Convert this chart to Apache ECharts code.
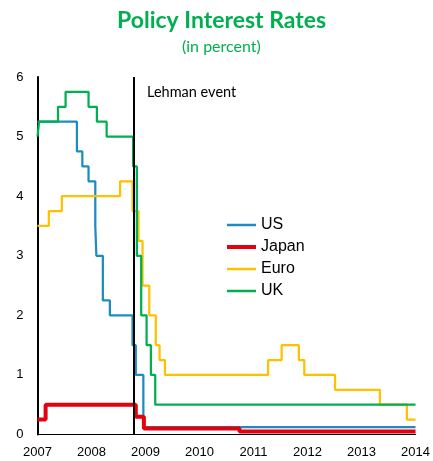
<!DOCTYPE html>
<html>
<head>
<meta charset="utf-8">
<script src="https://cdn.jsdelivr.net/npm/echarts@6/dist/echarts.min.js"></script>
<style>
  html, body { margin: 0; padding: 0; background: #fff; }
  #chart { width: 433px; height: 461px; }
</style>
</head>
<body>
<div id="chart"></div>
<script>
// rate changes: [decimal year, rate in percent], held until the next change
const usRates = [
  [2007.0, 5.25], [2007.73, 4.75], [2007.83, 4.5], [2007.945, 4.25],
  [2008.07, 3.5], [2008.09, 3.0], [2008.21, 2.25], [2008.34, 2.0],
  [2008.76, 1.5], [2008.82, 1.0], [2008.96, 0.125], [2014.0, 0.125]
];
const japanRates = [
  [2007.0, 0.25], [2007.15, 0.5], [2008.82, 0.3], [2008.97, 0.1],
  [2010.74, 0.05], [2014.0, 0.05]
];
const euroRates = [
  [2007.0, 3.5], [2007.21, 3.75], [2007.45, 4.0], [2008.53, 4.25],
  [2008.76, 3.75], [2008.87, 3.25], [2008.945, 2.5], [2009.07, 2.0],
  [2009.19, 1.5], [2009.26, 1.25], [2009.36, 1.0], [2011.27, 1.25],
  [2011.52, 1.5], [2011.84, 1.25], [2011.94, 1.0], [2012.51, 0.75],
  [2013.34, 0.5], [2013.84, 0.25], [2014.0, 0.25]
];
const ukRates = [
  [2007.0, 5.0], [2007.03, 5.25], [2007.38, 5.5], [2007.52, 5.75],
  [2007.945, 5.5], [2008.1, 5.25], [2008.28, 5.0], [2008.77, 4.5],
  [2008.84, 3.0], [2008.92, 2.0], [2009.02, 1.5], [2009.1, 1.0],
  [2009.18, 0.5], [2014.0, 0.5]
];
const seriesNames = ["US", "Japan", "Euro", "UK"];
const yearTicks = [2007, 2008, 2009, 2010, 2011, 2012, 2013, 2014];
const rateTicks = [0, 1, 2, 3, 4, 5, 6];
const lehmanX = 2008.79;

const colors = ["#1E8BC3", "#E3000F", "#FFC000", "#00B050"];
const widths = [2.25, 4, 2.25, 2.25];

const chart = echarts.init(document.getElementById("chart"));

const series = [usRates, japanRates, euroRates, ukRates].map((d, i) => ({
  name: seriesNames[i],
  type: "line",
  step: "end",
  data: d,
  symbol: "none",
  lineStyle: { color: colors[i], width: widths[i] },
  itemStyle: { color: colors[i] },
}));

// Lehman vertical line
series[0].markLine = {
  silent: true,
  symbol: "none",
  label: { show: false },
  lineStyle: { color: "#000", width: 2, type: "solid" },
  data: [{ xAxis: lehmanX }],
};

// plain line legend icons, Japan a bit thicker
const legendData = seriesNames.map((n, i) => ({
  name: n,
  icon: "path://M0,0h29v" + (i === 1 ? 4 : 2.5) + "h-29z",
}));

chart.setOption({
  animation: false,
  grid: { left: 37.5, right: 14.5, top: 77, bottom: 26.5 },
  graphic: [
    {
      type: "text", left: 117, top: 9,
      style: { text: "Policy Interest Rates", fill: "#00B050", font: "bold 23px Lato" },
    },
    {
      type: "text", left: 182, top: 39,
      style: { text: "(in percent)", fill: "#00B050", font: "16px Lato" },
    },
    {
      type: "text", left: 147, top: 85,
      style: { text: "Lehman event", fill: "#000", font: "14.5px Lato" },
    },
  ],
  legend: {
    data: legendData,
    orient: "vertical",
    left: 222,
    top: 212,
    itemWidth: 29,
    itemHeight: 14,
    itemGap: 6,
    symbolKeepAspect: true,
    textStyle: { fontFamily: "Liberation Sans", fontSize: 16, color: "#000", lineHeight: 16 },
  },
  xAxis: {
    type: "value",
    min: yearTicks[0],
    max: yearTicks[yearTicks.length - 1],
    interval: 1,
    axisLine: { show: true, lineStyle: { color: "#000", width: 1 } },
    axisTick: { show: false },
    splitLine: { show: false },
    axisLabel: {
      margin: 11,
      color: "#000",
      fontFamily: "Liberation Sans",
      fontSize: 13,
      formatter: (v) => (yearTicks.includes(v) ? String(v) : ""),
    },
  },
  yAxis: {
    type: "value",
    min: rateTicks[0],
    max: rateTicks[rateTicks.length - 1],
    interval: 1,
    axisLine: { show: true, lineStyle: { color: "#000", width: 2 } },
    axisTick: { show: false },
    splitLine: { show: false },
    axisLabel: {
      margin: 14,
      color: "#000",
      fontFamily: "Liberation Sans",
      fontSize: 13,
    },
  },
  series: series,
});
</script>
</body>
</html>
